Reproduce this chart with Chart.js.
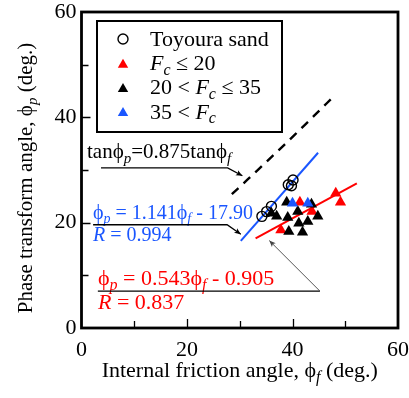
<!DOCTYPE html>
<html>
<head>
<meta charset="utf-8">
<script src="https://cdn.jsdelivr.net/npm/chart.js@4.4.0/dist/chart.umd.min.js"></script>
<style>
  html, body { margin: 0; padding: 0; background: #fff; }
</style>
</head>
<body>
<canvas id="myChart" width="409" height="398"></canvas>
<script>
// measured points: internal friction angle (phi_f) vs phase transform angle (phi_p)
const toyouraFf = [34.2, 35.1, 36.0, 39.2, 40.1, 39.8];
const toyouraFp = [21.2, 22.1, 23.1, 27.2, 28.1, 27.0];
const lowFcFf = [41.4, 43.7, 37.8, 48.2, 49.1];
const lowFcFp = [23.9, 22.1, 18.6, 25.6, 23.9];
const midFcFf = [36.0, 37.0, 38.9, 39.1, 41.0, 41.2, 42.9, 43.6, 44.8, 39.3, 41.9];
const midFcFp = [21.8, 21.2, 23.9, 21.0, 22.1, 19.9, 20.2, 23.5, 21.2, 18.3, 18.2];
const highFcFf = [40.0, 42.9];
const highFcFp = [23.7, 23.7];

// fitted lines: [slope, intercept] and the phi_f range they cover
const highFit = [1.141, -17.90];
const highFitRange = [30.2, 44.85];
const lowFit = [0.543, -0.905];
const lowFitRange = [33.0, 52.2];
const tanRatio = 0.875;
const tanRange = [28.5, 47.7];

const axisLabels = [0, 20, 40, 60];
const minorStep = 10;

const legendLabels = [
  [['Toyoura sand', 'n']],
  [['F', 'i'], ['c', 's'], [' \u2264 20', 'n']],
  [['20 < ', 'n'], ['F', 'i'], ['c', 's'], [' \u2264 35', 'n']],
  [['35 < ', 'n'], ['F', 'i'], ['c', 's']]
];

const RED = '#ff0000';
const BLUE = '#1a56ff';
const FONT = 'Liberation Serif';

function pts(xs, ys) {
  return xs.map((v, i) => ({x: v, y: ys[i]}));
}

function linePts(coef, range) {
  return range.map(v => ({x: v, y: coef[0] * v + coef[1]}));
}

function tanPts(range) {
  let out = [];
  for (let v = range[0]; v < range[1]; v += 1) out.push(v);
  out.push(range[1]);
  const r = Math.PI / 180;
  return out.map(v => ({x: v, y: Math.atan(tanRatio * Math.tan(v * r)) / r}));
}

function fontFor(kind, size) {
  if (kind === 's') return 'italic ' + Math.round(size * 0.72) + 'px "' + FONT + '"';
  if (kind === 'i') return 'italic ' + size + 'px "' + FONT + '"';
  return size + 'px "' + FONT + '"';
}

function richWidth(ctx, parts, size) {
  let w = 0;
  parts.forEach(p => {
    ctx.font = fontFor(p[1], size);
    w += ctx.measureText(p[0]).width;
  });
  return w;
}

// text made of normal / italic / subscript pieces
function drawRich(ctx, parts, x, y, size, color) {
  let cx = x;
  ctx.fillStyle = color;
  ctx.textBaseline = 'alphabetic';
  ctx.textAlign = 'left';
  parts.forEach(p => {
    ctx.font = fontFor(p[1], size);
    ctx.fillText(p[0], cx, y + (p[1] === 's' ? size * 0.22 : 0));
    cx += ctx.measureText(p[0]).width;
  });
}

function arrow(ctx, path, color, width, head) {
  ctx.save();
  ctx.strokeStyle = color;
  ctx.fillStyle = color;
  ctx.lineWidth = width;
  ctx.beginPath();
  ctx.moveTo(path[0][0], path[0][1]);
  for (let i = 1; i < path.length; i++) ctx.lineTo(path[i][0], path[i][1]);
  ctx.stroke();
  const p1 = path[path.length - 2], p2 = path[path.length - 1];
  const ang = Math.atan2(p2[1] - p1[1], p2[0] - p1[0]);
  ctx.beginPath();
  ctx.moveTo(p2[0], p2[1]);
  ctx.lineTo(p2[0] - head * Math.cos(ang - 0.4), p2[1] - head * Math.sin(ang - 0.4));
  ctx.lineTo(p2[0] - head * 0.7 * Math.cos(ang), p2[1] - head * 0.7 * Math.sin(ang));
  ctx.lineTo(p2[0] - head * Math.cos(ang + 0.4), p2[1] - head * Math.sin(ang + 0.4));
  ctx.closePath();
  ctx.fill();
  ctx.restore();
}

const frame = {
  id: 'frame',
  afterDatasetsDraw(chart) {
    const {ctx, chartArea: a, scales: {x, y}} = chart;
    const px = (fx, fy) => [x.getPixelForValue(fx), y.getPixelForValue(fy)];
    ctx.save();

    // inward ticks on left and bottom
    ctx.strokeStyle = '#000';
    ctx.lineWidth = 1.3;
    for (let v = minorStep; v < 60; v += minorStep) {
      const len = axisLabels.includes(v) ? 9 : 7;
      const yy = Math.round(y.getPixelForValue(v)) + 0.5;
      const xx = Math.round(x.getPixelForValue(v)) + 0.5;
      ctx.beginPath();
      ctx.moveTo(a.left, yy); ctx.lineTo(a.left + len, yy);
      ctx.moveTo(xx, a.bottom); ctx.lineTo(xx, a.bottom - len);
      ctx.stroke();
    }

    // plot frame
    ctx.lineWidth = 2.8;
    ctx.strokeRect(a.left, a.top, a.right - a.left, a.bottom - a.top);

    // axis titles
    const xt = [['Internal friction angle, \u03d5', 'n'], ['f', 's'], [' (deg.)', 'n']];
    const w1 = richWidth(ctx, xt, 22);
    drawRich(ctx, xt, (a.left + a.right) / 2 - w1 / 2, 377, 22, '#000');
    const yt = [['Phase transform angle, \u03d5', 'n'], ['p', 's'], [' (deg.)', 'n']];
    const w2 = richWidth(ctx, yt, 21);
    ctx.save();
    ctx.translate(32, 178);
    ctx.rotate(-Math.PI / 2);
    drawRich(ctx, yt, -w2 / 2, 0, 21, '#000');
    ctx.restore();

    // equation notes with leader arrows
    drawRich(ctx, [['tan\u03d5', 'n'], ['p', 's'], ['=0.875tan\u03d5', 'n'], ['f', 's']], 87, 158, 21, '#000');
    arrow(ctx, [px(3.7, 30.4), px(27.7, 30.4), px(30.5, 28.9)], '#000', 1.3, 7);

    drawRich(ctx, [['\u03d5', 'n'], ['p', 's'], [' = 1.141\u03d5', 'n'], ['f', 's'], [' - 17.90', 'n']], 93, 219, 20, BLUE);
    drawRich(ctx, [['R', 'i'], [' = 0.994', 'n']], 93, 241, 20, BLUE);
    arrow(ctx, [px(2.2, 19.6), px(27.6, 19.6), px(30.2, 17.8)], '#000', 1.3, 7);

    drawRich(ctx, [['\u03d5', 'n'], ['p', 's'], [' = 0.543\u03d5', 'n'], ['f', 's'], [' - 0.905', 'n']], 98, 285, 22, RED);
    drawRich(ctx, [['R', 'i'], [' = 0.837', 'n']], 98, 309, 22, RED);
    ctx.beginPath();
    ctx.strokeStyle = '#000';
    ctx.lineWidth = 1.3;
    const s0 = px(3.1, 7.0), s1 = px(45.2, 7.0);
    ctx.moveTo(s0[0], s0[1]); ctx.lineTo(s1[0], s1[1]);
    ctx.stroke();
    arrow(ctx, [s1, px(35.6, 16.6)], '#444', 0.9, 7);

    // legend box
    const lx = a.left + 15.5, ly = a.top + 9;
    ctx.lineWidth = 2;
    ctx.strokeStyle = '#000';
    ctx.strokeRect(lx, ly, 185, 111);
    chart.data.datasets.filter(d => d.inLegend).forEach((d, i) => {
      const cy = ly + 18 + i * 24.2;
      ctx.save();
      ctx.fillStyle = d.backgroundColor;
      ctx.strokeStyle = d.borderColor;
      ctx.lineWidth = d.borderWidth;
      Chart.helpers.drawPoint(ctx, {
        pointStyle: d.pointStyle, radius: d.pointStyle === 'circle' ? 5 : 6,
        rotation: 0, borderWidth: d.borderWidth
      }, lx + 26, cy + (d.pointStyle === 'circle' ? 0 : 1.5));
      ctx.restore();
      drawRich(ctx, legendLabels[i], lx + 53, cy + 7, 22, '#000');
    });

    ctx.restore();
  }
};

function build() {
  const ctx = document.getElementById('myChart').getContext('2d');
  new Chart(ctx, {
    type: 'scatter',
    data: {
      datasets: [
        {
          label: 'Toyoura sand', inLegend: true, order: 1,
          data: pts(toyouraFf, toyouraFp),
          pointStyle: 'circle', pointRadius: 5,
          backgroundColor: 'rgba(0,0,0,0)', borderColor: '#000', borderWidth: 1.4
        },
        {
          label: 'Fc <= 20', inLegend: true, order: 4,
          data: pts(lowFcFf, lowFcFp),
          pointStyle: 'triangle', pointRadius: 6.5,
          backgroundColor: RED, borderColor: RED, borderWidth: 0
        },
        {
          label: '20 < Fc <= 35', inLegend: true, order: 3,
          data: pts(midFcFf, midFcFp),
          pointStyle: 'triangle', pointRadius: 6.5,
          backgroundColor: '#000', borderColor: '#000', borderWidth: 0
        },
        {
          label: '35 < Fc', inLegend: true, order: 2,
          data: pts(highFcFf, highFcFp),
          pointStyle: 'triangle', pointRadius: 6.5,
          backgroundColor: BLUE, borderColor: BLUE, borderWidth: 0
        },
        {
          label: 'fit 35 < Fc', order: 6,
          data: linePts(highFit, highFitRange),
          showLine: true, pointRadius: 0, borderColor: BLUE, borderWidth: 2
        },
        {
          label: 'fit Fc <= 20', order: 6,
          data: linePts(lowFit, lowFitRange),
          showLine: true, pointRadius: 0, borderColor: RED, borderWidth: 2
        },
        {
          label: 'tan ratio', order: 6,
          data: tanPts(tanRange),
          showLine: true, pointRadius: 0, borderColor: '#000', borderWidth: 2.4,
          borderDash: [9, 7]
        }
      ]
    },
    options: {
      responsive: false,
      animation: false,
      layout: { padding: { left: 0, top: 12, right: 11, bottom: 0 } },
      plugins: { legend: { display: false }, tooltip: { enabled: false } },
      scales: {
        x: {
          type: 'linear', min: 0, max: 60,
          grid: { display: false, drawTicks: false },
          border: { display: false },
          ticks: { stepSize: 20, padding: 9, color: '#000', font: { family: FONT, size: 22 } },
          afterFit: s => { s.height = 70; s.paddingLeft = 0; s.paddingRight = 0; }
        },
        y: {
          type: 'linear', min: 0, max: 60,
          grid: { display: false, drawTicks: false },
          border: { display: false },
          ticks: { stepSize: 20, padding: 5, color: '#000', font: { family: FONT, size: 22 } },
          afterFit: s => { s.width = 81.5; s.paddingTop = 0; s.paddingBottom = 0; }
        }
      }
    },
    plugins: [frame]
  });
}

Promise.all([
  document.fonts.load('20px "' + FONT + '"'),
  document.fonts.load('italic 20px "' + FONT + '"')
]).then(build, build);
</script>
</body>
</html>
